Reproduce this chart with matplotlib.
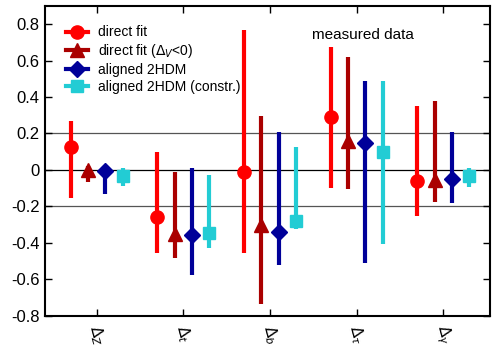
import matplotlib.pyplot as plt
import numpy as np

plt.rcParams['font.family'] = ['Liberation Sans', 'DejaVu Sans']

labels = [r"$\Delta_Z$", r"$\Delta_t$", r"$\Delta_b$", r"$\Delta_\tau$", r"$\Delta_\gamma$"]

series_names = ["direct fit", r"direct fit ($\Delta_V$<0)", "aligned 2HDM", "aligned 2HDM (constr.)"]

# central values, lower and upper ends of each range
direct_c = [0.125, -0.26, -0.01, 0.29, -0.06]
direct_lo = [-0.156, -0.458, -0.458, -0.099, -0.254]
direct_hi = [0.267, 0.097, 0.77, 0.677, 0.349]

negv_c = [0.0, -0.35, -0.30, 0.16, -0.055]
negv_lo = [-0.067, -0.483, -0.733, -0.104, -0.178]
negv_hi = [0.02, -0.01, 0.297, 0.622, 0.376]

a2hdm_c = [-0.005, -0.357, -0.34, 0.148, -0.048]
a2hdm_lo = [-0.13, -0.578, -0.519, -0.51, -0.181]
a2hdm_hi = [0.0, 0.01, 0.208, 0.489, 0.208]

constr_c = [-0.035, -0.344, -0.278, 0.099, -0.031]
constr_lo = [-0.09, -0.429, -0.323, -0.404, -0.093]
constr_hi = [0.01, -0.03, 0.126, 0.489, 0.01]

centers = [direct_c, negv_c, a2hdm_c, constr_c]
lows = [direct_lo, negv_lo, a2hdm_lo, constr_lo]
highs = [direct_hi, negv_hi, a2hdm_hi, constr_hi]

colors = ["#ff0000", "#aa0000", "#000099", "#22ccd4"]
markers = ["o", "^", "D", "s"]
msizes = [9.5, 9.5, 8, 9]
offsets = [-0.3, -0.1, 0.1, 0.3]

fig = plt.figure(figsize=(4.92, 3.47), dpi=100)
ax = fig.add_axes([0.0915, 0.09, 0.905, 0.893])

for yv, c in [(0.2, "#555555"), (0.0, "black"), (-0.2, "#555555")]:
    ax.axhline(yv, color=c, lw=0.9, zorder=1)

x = np.arange(1, len(labels) + 1)
for i in range(4):
    xs = x + offsets[i]
    c = np.array(centers[i])
    lo = c - np.array(lows[i])
    hi = np.array(highs[i]) - c
    ax.errorbar(xs, c, yerr=[lo, hi], fmt="none", ecolor=colors[i],
                elinewidth=3, capsize=0, zorder=2)
    ax.plot(xs, c, ls="none", marker=markers[i], ms=msizes[i],
            color=colors[i], zorder=3)
    # legend handle: marker with a short line
    ax.plot([], [], color=colors[i], lw=3, marker=markers[i],
            ms=msizes[i], label=series_names[i])

ax.set_xlim(0.405, 5.54)
ax.set_ylim(-0.8, 0.9)
ax.set_yticks(np.arange(-0.8, 0.81, 0.2))
ax.set_yticklabels(["-0.8", "-0.6", "-0.4", "-0.2", "0", "0.2", "0.4", "0.6", "0.8"])
ax.set_xticks(x)
ax.set_xticklabels(labels, rotation=-75, fontsize=11)
ax.tick_params(axis="x", direction="in", top=True, length=5, width=1, pad=5)
ax.tick_params(axis="y", direction="in", right=True, length=5, width=1,
               labelsize=12, pad=4)
for s in ax.spines.values():
    s.set_linewidth(1.5)

ax.text(0.715, 0.905, "measured data", transform=ax.transAxes,
        ha="center", va="center", fontsize=11)

ax.legend(loc="upper left", frameon=False, fontsize=10, handlelength=1.6,
          handletextpad=0.7, labelspacing=0.2, borderaxespad=0.0,
          bbox_to_anchor=(0.035, 0.955))

fig.savefig("out.png", dpi=100)
